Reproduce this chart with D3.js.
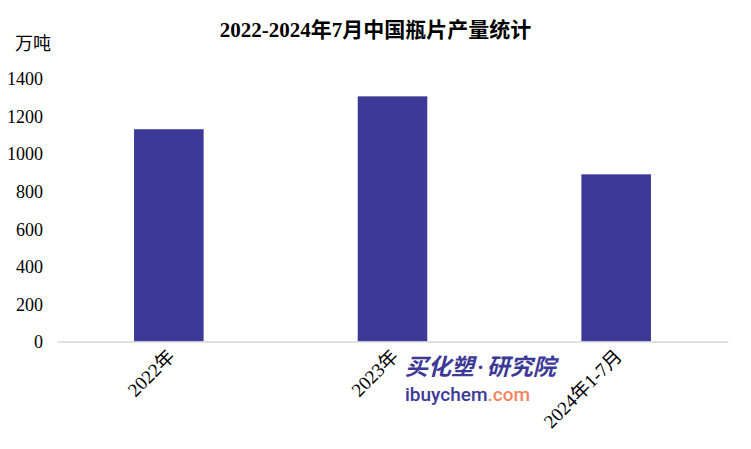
<!DOCTYPE html>
<html>
<head>
<meta charset="utf-8">
<script src="https://cdn.jsdelivr.net/npm/d3@7/dist/d3.min.js"></script>
<style>
  html, body { margin: 0; padding: 0; background: #ffffff; }
  svg { display: block; }
  .serif { font-family: "Liberation Serif", "Noto Sans CJK SC", serif; }
</style>
</head>
<body>
<svg id="chart" width="751" height="449"></svg>
<script>
const categories = ["2022年", "2023年", "2024年1-7月"];
const values = [1130, 1305, 890];
const yTicks = [0, 200, 400, 600, 800, 1000, 1200, 1400];
const titleText = "2022-2024年7月中国瓶片产量统计";
const unitText = "万吨";

const W = 751, H = 449;
const svg = d3.select("#chart");
svg.append("rect").attr("width", W).attr("height", H).attr("fill", "#ffffff");

const x = d3.scaleBand()
  .domain(categories)
  .range([57, 728])
  .paddingInner(0.689)
  .paddingOuter(0.3445);

const y = d3.scaleLinear().domain([0, 1400]).range([341.5, 78.5]);

// title
svg.append("text")
  .attr("class", "serif")
  .attr("x", 375.5).attr("y", 30)
  .attr("text-anchor", "middle")
  .attr("dominant-baseline", "central")
  .attr("font-size", 21)
  .attr("font-weight", "bold")
  .attr("fill", "#000")
  .text(titleText);

// unit
svg.append("text")
  .attr("class", "serif")
  .attr("x", 15).attr("y", 44)
  .attr("dominant-baseline", "central")
  .attr("font-size", 18)
  .attr("fill", "#000")
  .text(unitText);

// y axis labels (no line)
const yAxis = d3.axisLeft(y).tickValues(yTicks).tickFormat(d3.format("d")).tickSize(0).tickPadding(0);
const gy = svg.append("g").attr("transform", "translate(43,0)").call(yAxis);
gy.select(".domain").remove();
gy.selectAll("text")
  .attr("class", "serif")
  .attr("font-size", 18)
  .attr("fill", "#000")
  .attr("dy", "0.35em");

// bars
svg.append("g").selectAll("rect")
  .data(values)
  .join("rect")
  .attr("x", (d, i) => x(categories[i]))
  .attr("width", x.bandwidth())
  .attr("y", d => y(d))
  .attr("height", d => y(0) - y(d))
  .attr("fill", "#3c3a96");

// x axis
const xAxis = d3.axisBottom(x).tickSize(0).tickPadding(0);
const gx = svg.append("g").attr("transform", `translate(0,${y(0)})`).call(xAxis);
gx.select(".domain").attr("stroke", "#d9d9d9").attr("stroke-width", 1.5);
gx.selectAll(".tick text")
  .attr("class", "serif")
  .attr("font-size", 19)
  .attr("fill", "#000")
  .attr("text-anchor", "end")
  .attr("y", 0).attr("dy", 0)
  .attr("transform", "translate(7,16) rotate(-45)");

// watermark
const wm = svg.append("g");
const wc = wm.append("text")
  .attr("x", 405).attr("y", 375)
  .attr("font-family", "Noto Sans CJK SC, sans-serif")
  .attr("font-size", 23)
  .attr("font-weight", "bold")
  .attr("font-style", "italic")
  .attr("fill", "#3c3a96");
wc.append("tspan").text("买化塑");
wc.append("tspan").attr("font-family", "Roboto, sans-serif").attr("dx", 3).text("·");
wc.append("tspan").attr("dx", 3).text("研究院");
const wt = wm.append("text")
  .attr("x", 405).attr("y", 401)
  .attr("font-family", "Roboto, sans-serif")
  .attr("font-size", 19)
  .attr("font-weight", 500);
wt.append("tspan").attr("fill", "#3c3a96").text("ibuychem");
wt.append("tspan").attr("fill", "#f4845f").text(".com");
</script>
</body>
</html>
